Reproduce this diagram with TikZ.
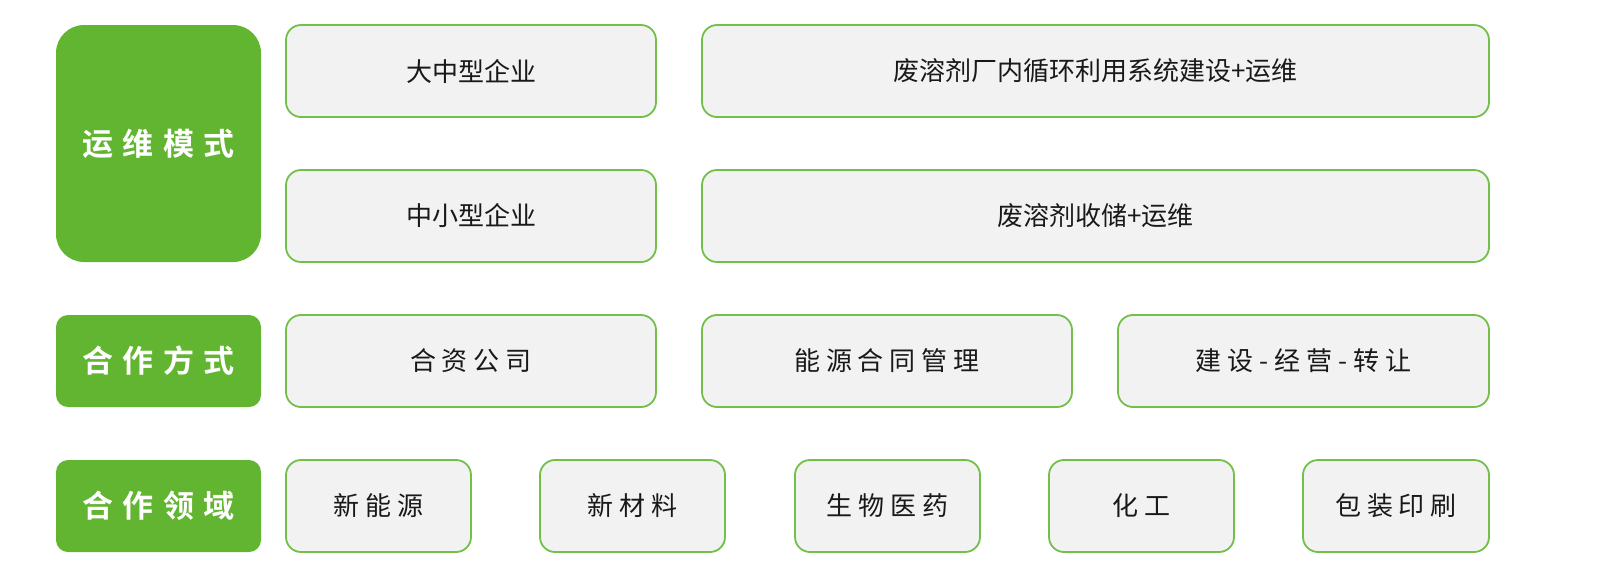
\documentclass[tikz,border=0pt]{standalone}
\usepackage{fontspec}
\newfontfamily\cjk{Noto Sans CJK SC}
\newfontfamily\cjksp[LetterSpace=23]{Noto Sans CJK SC}
\newfontfamily\cjkbold[LetterSpace=30]{Noto Sans CJK SC Bold}
\definecolor{gfill}{HTML}{62B530}
\definecolor{gline}{HTML}{72C04A}
\definecolor{bfill}{HTML}{F2F2F2}
\tikzset{
  gbox/.style={draw=none, fill=gfill, rounded corners=6pt, text=white, inner sep=0pt,
    font=\cjkbold\fontsize{15.5}{18}\selectfont},
  wbox/.style={draw=gline, line width=0.9pt, fill=bfill, rounded corners=7.5pt, text=black!90, inner sep=0pt,
    font=\cjk\fontsize{13}{16}\selectfont},
  wsp/.style={wbox, font=\cjksp\fontsize{13}{16}\selectfont},
}
\begin{document}
\begin{tikzpicture}[x=0.5pt,y=-0.5pt]
\useasboundingbox (0,0) rectangle (1600,586);
% left green labels
\node[gbox, rounded corners=14pt, minimum width=102.5pt, minimum height=118.5pt] (yw) at (158.5,143.5) {运维模式};
\node[gbox, minimum width=102.5pt, minimum height=46pt] (hzfs) at (158.5,361) {合作方式};
\node[gbox, minimum width=102.5pt, minimum height=46pt] (hzly) at (158.5,506) {合作领域};
% row 1
\node[wbox, minimum width=185pt, minimum height=46pt] (dzx) at (471,71) {大中型企业};
\node[wbox, minimum width=393.5pt, minimum height=46pt] (fcn) at (1095.5,71) {废溶剂厂内循环利用系统建设+运维};
% row 2
\node[wbox, minimum width=185pt, minimum height=46pt] (zxx) at (471,216) {中小型企业};
\node[wbox, minimum width=393.5pt, minimum height=46pt] (fsc) at (1095.5,216) {废溶剂收储+运维};
% row 3
\node[wsp, minimum width=185pt, minimum height=46pt] (hz) at (471,361) {合资公司};
\node[wsp, minimum width=185pt, minimum height=46pt] (ny) at (887,361) {能源合同管理};
\node[wsp, minimum width=185.5pt, minimum height=46pt] (jy) at (1303.5,361) {建设-经营-转让};
% row 4
\node[wsp, minimum width=92.5pt, minimum height=46pt] (xny) at (378.5,506) {新能源};
\node[wsp, minimum width=92.5pt, minimum height=46pt] (xcl) at (632.5,506) {新材料};
\node[wsp, minimum width=92.5pt, minimum height=46pt] (swyy) at (887.5,506) {生物医药};
\node[wsp, minimum width=92.5pt, minimum height=46pt] (hg) at (1141.5,506) {化工};
\node[wsp, minimum width=93pt, minimum height=46pt] (bz) at (1396,506) {包装印刷};
\end{tikzpicture}
\end{document}
